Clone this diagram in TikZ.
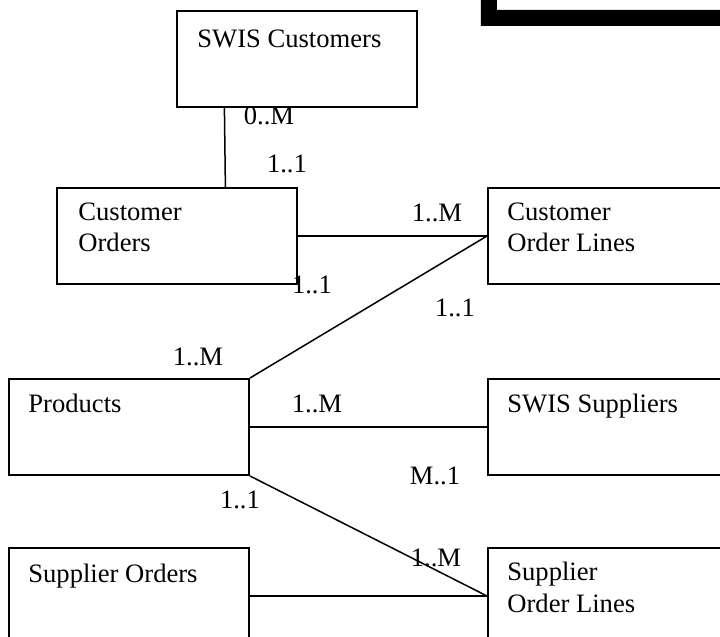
\documentclass[tikz,border=0pt]{standalone}
\usepackage{fontspec}
\setmainfont{Liberation Serif}
\usetikzlibrary{calc}
\tikzset{
    entity/.style={draw, line width=1pt, anchor=north west, inner sep=0pt,
        minimum width=120pt, minimum height=48pt},
    etext/.style={anchor=base west, inner sep=0pt, align=left,
        font=\fontsize{13.3}{16}\selectfont},
    card/.style={anchor=base, inner sep=0pt,
        font=\fontsize{13.3}{16}\selectfont},
    rel/.style={line width=0.75pt}
}

\begin{document}
\begin{tikzpicture}[x=0.5pt, y=-0.5pt]

% Rand
\clip (0,0) rectangle (720,637);

% Rahmen oben rechts
\fill (481,0) -- (497,0) -- (497,10) -- (720,10) -- (720,26) -- (481,26) -- cycle;

% Entitaeten
\node[entity] (cust) at (176,10) {};
\node[entity] (corders) at (56,187) {};
\node[entity] (colines) at (487,187) {};
\node[entity] (products) at (8,378) {};
\node[entity] (suppliers) at (487,378) {};
\node[entity] (suporders) at (8,547) {};
\node[entity] (solines) at (487,547) {};

% Beschriftungen (Grundlinie der letzten Zeile)
\node[etext] (custtxt) at (197,47) {SWIS Customers};
\node[etext] (corderstxt) at (78,252) {Customer\\Orders};
\node[etext] (colinestxt) at (507,252) {Customer\\Order Lines};
\node[etext] (productstxt) at (28,413) {Products};
\node[etext] (supplierstxt) at (507,413) {SWIS Suppliers};
\node[etext] (suporderstxt) at (28,582) {Supplier Orders};
\node[etext] (solinestxt) at (507,612) {Supplier\\Order Lines};

% Beziehungen
\draw[rel] ($(cust.south west)!0.2!(cust.south east)$) -- ($(corders.north west)!0.7!(corders.north east)$);
\draw[rel] (corders.east) -- (colines.west);
\draw[rel] (colines.west) -- (products.north east);
\draw[rel] (products.east) -- (suppliers.west);
\draw[rel] (products.south east) -- (solines.west);
\draw[rel] (suporders.east) -- (solines.west);

% Kardinalitaeten
\node[card] (k1) at (269,125) {0..M};
\node[card] (k2) at (287,173) {1..1};
\node[card] (k3) at (437,221) {1..M};
\node[card] (k4) at (312,293) {1..1};
\node[card] (k5) at (455,317) {1..1};
\node[card] (k6) at (198,365) {1..M};
\node[card] (k7) at (317,413) {1..M};
\node[card] (k8) at (435,485) {M..1};
\node[card] (k9) at (240,509) {1..1};
\node[card] (k10) at (436,567) {1..M};
\end{tikzpicture}
\end{document}
